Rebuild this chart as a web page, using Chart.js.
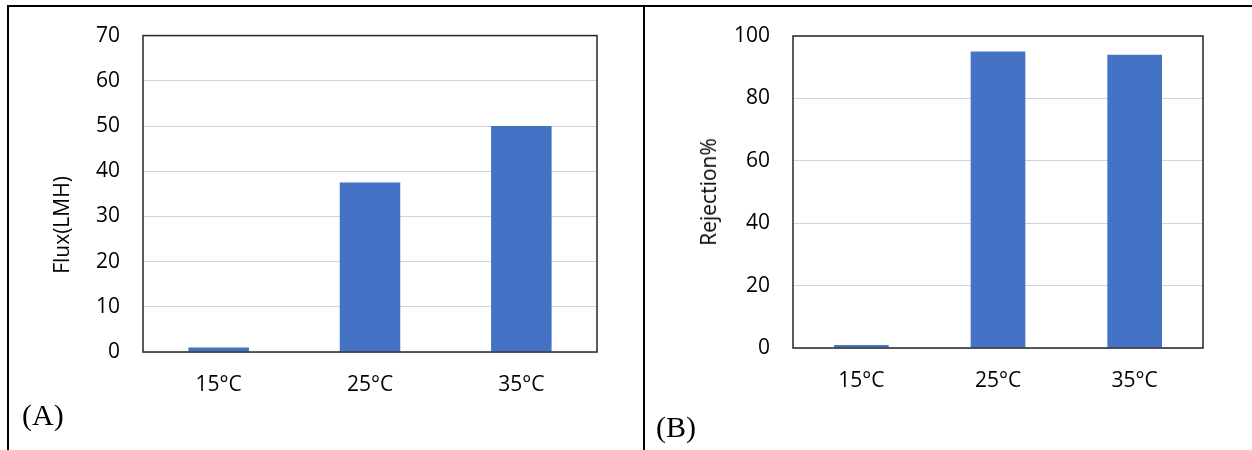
<!DOCTYPE html>
<html>
<head>
<meta charset="utf-8">
<script src="https://cdn.jsdelivr.net/npm/chart.js@4.4.1/dist/chart.umd.min.js"></script>
<style>
  html, body { margin: 0; padding: 0; background: #fff; }
  body { width: 1252px; height: 450px; position: relative; overflow: hidden; }
  canvas { position: absolute; top: 0; }
  .rule { position: absolute; background: #000; }
  .ytitle {
    position: absolute; font-family: "Open Sans", sans-serif; font-size: 21px; color: #000;
    white-space: nowrap; transform: translate(-50%, -50%) rotate(-90deg);
  }
  .panel { position: absolute; font-family: "Liberation Serif", serif; font-size: 30px; color: #000; }
</style>
</head>
<body>
<div class="rule" style="left:7px; top:5px; width:1245px; height:2px;"></div>
<div class="rule" style="left:7px; top:5px; width:2px; height:445px;"></div>
<div class="rule" style="left:643px; top:5px; width:2px; height:445px;"></div>

<canvas id="FluxChart" width="640" height="450" style="left:0px;"></canvas>
<canvas id="RejectionChart" width="607" height="450" style="left:645px;"></canvas>

<div class="ytitle" style="left:61px; top:225px;">Flux(LMH)</div>
<div class="ytitle" style="left:708px; top:192px;">Rejection%</div>
<div class="panel" style="left:22px; top:398px;">(A)</div>
<div class="panel" style="left:656px; top:410px;">(B)</div>

<script>
// data
const temperatures = ['15°C', '25°C', '35°C'];
const fluxValues = [1, 37.5, 50];
const rejectionValues = [1, 95, 94];
const fluxAxis = [0, 70, 10];       // min, max, step
const rejectionAxis = [0, 100, 20];

const barColor = '#4472C4';
const textColor = '#000';

// excel style box round the plot area
const plotFrame = {
    id: 'plotFrame',
    afterDraw(chart) {
        const a = chart.chartArea;
        const c = chart.ctx;
        c.save();
        c.strokeStyle = '#262626';
        c.lineWidth = 1.5;
        c.strokeRect(a.left, a.top, a.right - a.left, a.bottom - a.top);
        c.restore();
    }
};

function addChart(canvasId, values, axis, pad, yWidth, xHeight){
    const ctx = document.getElementById(canvasId).getContext('2d');
    return new Chart(ctx, {
        type: 'bar',
        data: {
            labels: temperatures,
            datasets: [{
                data: values,
                backgroundColor: barColor,
                borderWidth: 0,
                barPercentage: 0.4,
                categoryPercentage: 1
            }]
        },
        options: {
            responsive: false,
            animation: false,
            layout: { autoPadding: false, padding: pad },
            plugins: { legend: { display: false }, tooltip: { enabled: false } },
            scales: {
                x: {
                    grid: { display: false, drawTicks: false },
                    border: { display: false },
                    ticks: { color: textColor, padding: 20, font: { size: 21, family: 'Open Sans' } },
                    afterFit(scale) { scale.height = xHeight; }
                },
                y: {
                    min: axis[0],
                    max: axis[1],
                    grid: { color: '#d4d4d4', lineWidth: 1, drawTicks: false },
                    border: { display: false },
                    ticks: { stepSize: axis[2], color: textColor, padding: 23, font: { size: 21, family: 'Open Sans' } },
                    afterFit(scale) { scale.width = yWidth; }
                }
            }
        },
        plugins: [plotFrame]
    });
}

addChart('FluxChart', fluxValues, fluxAxis, { left: 0, right: 43, top: 33, bottom: 0 }, 143, 98);
addChart('RejectionChart', rejectionValues, rejectionAxis, { left: 0, right: 49, top: 36, bottom: 0 }, 148, 102);
</script>
</body>
</html>
